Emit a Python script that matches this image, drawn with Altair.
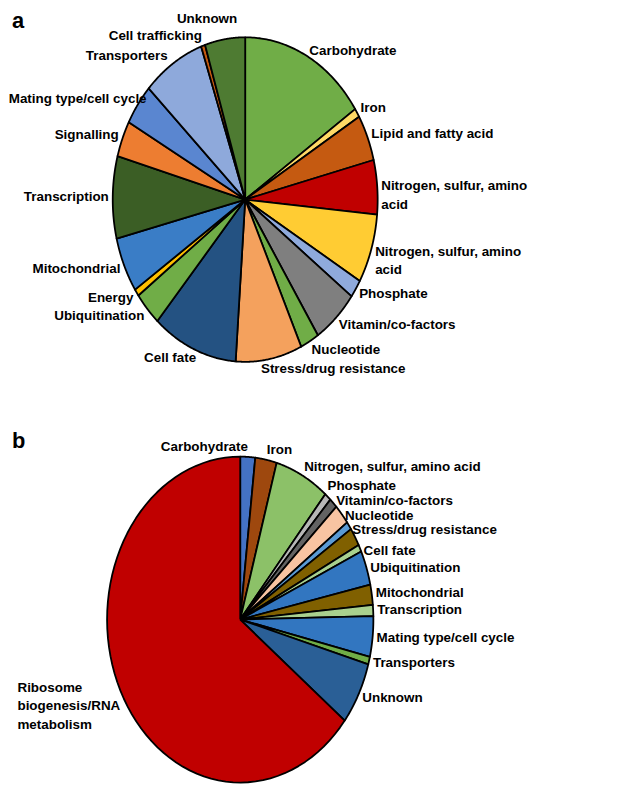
import altair as alt
import pandas as pd

# ---------------- data (percent of genes per functional category) ----------------
A_CATEGORIES = [
    "Carbohydrate", "Iron", "Lipid and fatty acid", "Nitrogen, sulfur, amino acid",
    "Nitrogen, sulfur, amino acid", "Phosphate", "Vitamin/co-factors", "Nucleotide",
    "Stress/drug resistance", "Cell fate", "Ubiquitination", "Energy", "Mitochondrial",
    "Transcription", "Signalling", "Mating type/cell cycle", "Transporters",
    "Cell trafficking", "Unknown",
]
A_LABELS = [
    "Carbohydrate", "Iron", "Lipid and fatty acid", "Nitrogen, sulfur, amino\nacid",
    "Nitrogen, sulfur, amino\nacid", "Phosphate", "Vitamin/co-factors", "Nucleotide",
    "Stress/drug resistance", "Cell fate", "Ubiquitination", "Energy", "Mitochondrial",
    "Transcription", "Signalling", "Mating type/cell cycle", "Transporters",
    "Cell trafficking", "Unknown",
]
A_VALUES = [15.6, 0.9, 4.6, 5.4, 6.9, 1.8, 5.6, 2.3, 8.1, 10.4, 3.4, 0.7, 5.5, 8.2,
            3.6, 4.1, 7.6, 0.5, 4.9]
A_COLORS = ["#70AD47", "#FFD966", "#C55A11", "#C00000", "#FFCC33", "#8FAADC", "#7F7F7F",
            "#70AD47", "#F4A15D", "#245282", "#70AD47", "#FFC000", "#3A7DC6", "#3B5E25",
            "#ED7D31", "#5A86D0", "#8EA9DB", "#C55A11", "#4E7B32"]

B_CATEGORIES = [
    "Carbohydrate", "Iron", "Nitrogen, sulfur, amino acid", "Phosphate",
    "Vitamin/co-factors", "Nucleotide", "Stress/drug resistance", "(unlabelled)",
    "Cell fate", "Ubiquitination", "Mitochondrial", "Transcription",
    "Mating type/cell cycle", "Transporters", "Unknown",
    "Ribosome biogenesis/RNA metabolism",
]
B_LABELS = [
    "Carbohydrate", "Iron", "Nitrogen, sulfur, amino acid", "Phosphate",
    "Vitamin/co-factors", "Nucleotide", "Stress/drug resistance", "",
    "Cell fate", "Ubiquitination", "Mitochondrial", "Transcription",
    "Mating type/cell cycle", "Transporters", "Unknown",
    "Ribosome\nbiogenesis/RNA\nmetabolism",
]
B_VALUES = [1.8, 2.6, 6.6, 0.8, 1.0, 2.0, 0.8, 1.8, 0.7, 3.4, 2.0, 1.1, 4.0, 0.75,
            6.2, 64.2]
B_COLORS = ["#4472C4", "#9E480E", "#8CC168", "#B7B7B7", "#636363", "#F8C4A2", "#5B9BD5",
            "#806000", "#A9D18E", "#3276C0", "#806000", "#A9D18E", "#3276C0", "#70AD47",
            "#2A5F96", "#C00000"]

# ---------------- styling / layout ----------------
FONT = "Liberation Sans"
FONT_SIZE = 13.5
W = 628
N_STEPS = 72
GAP_X, GAP_Y = 4, 10  # label distance outside the rim (px)

A_NUDGE = {"Unknown": (13, -10), "Stress/drug resistance": (-9, 0),
           "Mating type/cell cycle": (12, 0), "Carbohydrate": (0, 3), "Cell fate": (4, 0),
           "Transporters": (-3, 1)}
B_NUDGE = {"Phosphate": (-3, -3), "Vitamin/co-factors": (0, 5), "Nucleotide": (0, 8),
           "Stress/drug resistance": (0, 10), "Cell fate": (0, 7), "Ubiquitination": (0, 3),
           "Ribosome\nbiogenesis/RNA\nmetabolism": (-100, -7)}


def panel(cats, labels, values, colors, nudges, cx, cy, rx, ry, H, letter, letter_y):
    df = pd.DataFrame({
        "idx": list(range(len(cats))), "category": cats, "label": labels,
        "value": values, "color": colors,
        "ndx": [nudges.get(l, (0, 0))[0] for l in labels],
        "ndy": [nudges.get(l, (0, 0))[1] for l in labels],
    })
    xs = alt.Scale(domain=[-cx / rx, (W - cx) / rx], nice=False, zero=False)
    ys = alt.Scale(domain=[-(H - cy) / ry, cy / ry], nice=False, zero=False)

    base = (
        alt.Chart(df)
        .transform_joinaggregate(total="sum(value)")
        .transform_window(cum="sum(value)", sort=[alt.SortField("idx")], frame=[None, 0])
        .transform_calculate(a0="2*PI*(datum.cum-datum.value)/datum.total")
        .transform_calculate(a1="2*PI*datum.cum/datum.total")
    )

    slices = (
        base.transform_calculate(steps=f"sequence(-1, {N_STEPS + 2})")
        .transform_flatten(["steps"], as_=["k"])
        .transform_calculate(
            t=f"datum.a0 + (datum.a1-datum.a0)*clamp(datum.k,0,{N_STEPS})/{N_STEPS}")
        .transform_calculate(r=f"(datum.k < 0 || datum.k > {N_STEPS}) ? 0 : 1")
        .transform_calculate(px="datum.r*sin(datum.t)")
        .transform_calculate(py="datum.r*cos(datum.t)")
        .mark_line(stroke="black", strokeWidth=1.8, strokeJoin="round", interpolate="linear")
        .encode(
            x=alt.X("px:Q", scale=xs, axis=None),
            y=alt.Y("py:Q", scale=ys, axis=None),
            order=alt.Order("k:Q"),
            detail="idx:N",
            fill=alt.Fill("color:N", scale=None),
        )
    )

    lab = (
        base.transform_filter("datum.label != ''")
        .transform_calculate(mid="(datum.a0+datum.a1)/2")
        .transform_calculate(lx=f"sin(datum.mid)*(1+{GAP_X}/{rx}) + datum.ndx/{rx}")
        .transform_calculate(ly=f"cos(datum.mid)*(1+{GAP_Y}/{ry}) - datum.ndy/{ry}")
        .transform_calculate(
            side="sin(datum.mid) >= 0.1 ? 'right' : "
                 "(indexof(datum.label, '\\n') >= 0 ? 'block' : 'left')")
    )
    txt = dict(baseline="middle", font=FONT, fontSize=FONT_SIZE, fontWeight="bold",
               lineBreak="\n", lineHeight=18.5, color="black")
    enc = dict(x=alt.X("lx:Q", scale=xs, axis=None), y=alt.Y("ly:Q", scale=ys, axis=None),
               text="label:N")
    right = lab.transform_filter("datum.side != 'left'").mark_text(align="left", **txt).encode(**enc)
    left = lab.transform_filter("datum.side == 'left'").mark_text(align="right", **txt).encode(**enc)

    letter_layer = alt.Chart(pd.DataFrame({"t": [letter]})).mark_text(
        align="left", baseline="alphabetic", font=FONT, fontSize=22, fontWeight="bold",
        color="black").encode(x=alt.value(0), y=alt.value(letter_y), text="t:N")

    return alt.layer(slices, right, left, letter_layer).properties(width=W, height=H)


pa = panel(A_CATEGORIES, A_LABELS, A_VALUES, A_COLORS, A_NUDGE,
           cx=234.7, cy=190.3, rx=133.3, ry=163.3, H=390, letter="a", letter_y=18)
pb = panel(B_CATEGORIES, B_LABELS, B_VALUES, B_COLORS, B_NUDGE,
           cx=229.7, cy=223.0, rx=134.0, ry=164.0, H=390, letter="b", letter_y=50)

chart = (
    alt.vconcat(pa, pb, spacing=0)
    .properties(padding=0)
    .configure_view(stroke=None)
)

chart.save("out.html", embed_options={"renderer": "svg", "actions": False})
